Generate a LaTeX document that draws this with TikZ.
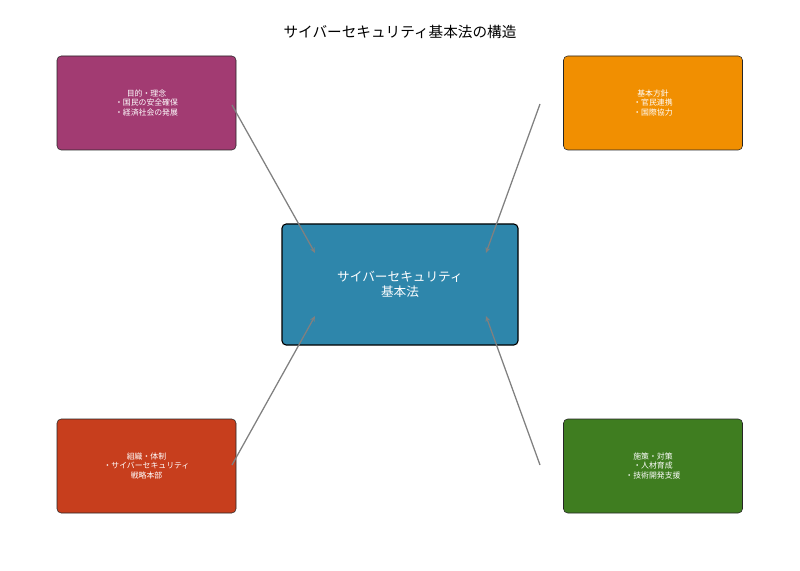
\documentclass[tikz,border=0pt]{standalone}
\usepackage{fontspec}
\setmainfont{Noto Sans CJK JP}
\usetikzlibrary{arrows.meta}

\definecolor{lawblue}{HTML}{2E86AB}
\definecolor{aimpurple}{HTML}{A23B72}
\definecolor{policyorange}{HTML}{F18F01}
\definecolor{orgred}{HTML}{C73E1D}
\definecolor{measuregreen}{HTML}{3F7D20}

\tikzstyle{part}=[rectangle, draw=black!85, rounded corners=3pt, text=white, align=center, minimum width=4.475cm, minimum height=2.35cm, font=\fontsize{5.6}{6.8}\selectfont]
\tikzstyle{core}=[rectangle, draw=black, thick, rounded corners=3pt, text=white, align=center, minimum width=5.9cm, minimum height=3.025cm, font=\fontsize{9}{11}\selectfont]
\tikzstyle{link}=[-{Stealth[length=4pt,width=3.5pt]}, draw=black!50, line width=0.9pt]

\begin{document}
\begin{tikzpicture}
\useasboundingbox (0,0) rectangle (20,14.25);

\node (title) at (10,13.45) {\fontsize{10.4}{12}\selectfont サイバーセキュリティ基本法の構造};

\node (law) [core, fill=lawblue] at (10,7.1375) {サイバーセキュリティ\\基本法};

\node (aim)     [part, fill=aimpurple]    at (3.6625,11.675) {目的・理念\\・国民の安全確保\\・経済社会の発展};
\node (policy)  [part, fill=policyorange] at (16.325,11.675) {基本方針\\・官民連携\\・国際協力};
\node (org)     [part, fill=orgred]       at (3.6625,2.6)    {組織・体制\\・サイバーセキュリティ\\戦略本部};
\node (measure) [part, fill=measuregreen] at (16.325,2.6)    {施策・対策\\・人材育成\\・技術開発支援};

% start and end points of the connectors
\coordinate (aimout)     at (5.8,11.625);
\coordinate (policyout)  at (13.5,11.65);
\coordinate (orgout)     at (5.8,2.625);
\coordinate (measureout) at (13.5,2.625);
\coordinate (lawtl) at (7.875,7.925);
\coordinate (lawtr) at (12.15,7.925);
\coordinate (lawbl) at (7.875,6.35);
\coordinate (lawbr) at (12.15,6.35);

\draw [link] (aimout) -- (lawtl);
\draw [link] (policyout) -- (lawtr);
\draw [link] (orgout) -- (lawbl);
\draw [link] (measureout) -- (lawbr);

\end{tikzpicture}
\end{document}
